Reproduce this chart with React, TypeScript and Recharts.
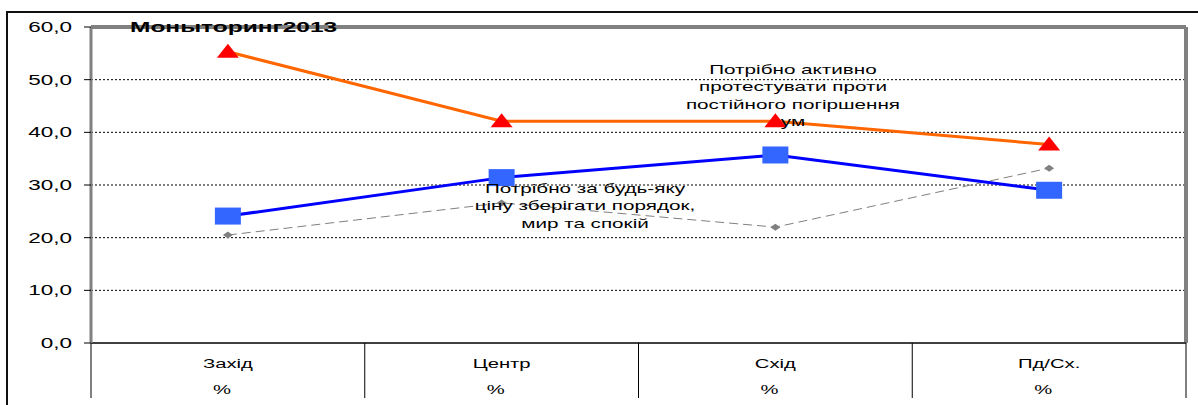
import React from "react";
import { LineChart, Line, XAxis, YAxis, CartesianGrid, ReferenceLine } from "recharts";

const categories = ["Захід", "Центр", "Схід", "Пд/Сх."];
const unitLabels = ["%", "%", "%", "%"];
const protestValues = [55.3, 42.1, 42.1, 37.7];
const orderValues = [24.1, 31.4, 35.7, 29.0];
const otherValues = [20.5, 26.6, 22.0, 33.2];
const yTicks = [0, 10, 20, 30, 40, 50, 60];

const FONT = "'Liberation Sans', Arial, sans-serif";
const STRETCH = 1.5;

// numeric x axis: categories sit at i + 0.5, borders at integers
const data = categories.map((name, i) => ({
  x: i + 0.5,
  name,
  protest: protestValues[i],
  order: orderValues[i],
  other: otherValues[i],
}));

const xTicks: number[] = [];
for (let i = 0; i <= categories.length; i++) {
  xTicks.push(i);
  if (i < categories.length) xTicks.push(i + 0.5);
}

function XTick(props: any) {
  const { x, y, payload } = props;
  const v = payload.value as number;
  if (Number.isInteger(v)) {
    return <line x1={x} y1={y} x2={x} y2={y + 55} stroke="#000" strokeWidth={1} />;
  }
  const i = Math.floor(v);
  return (
    <g transform={`translate(${x},${y})`}>
      <text transform={`scale(${STRETCH},1)`} x={0} y={25} textAnchor="middle" fontSize={13.5} fontFamily={FONT} fill="#000">
        {categories[i]}
      </text>
      <text transform={`scale(${STRETCH},1)`} x={-4} y={51} textAnchor="middle" fontSize={13.5} fontFamily={FONT} fill="#000">
        {unitLabels[i]}
      </text>
    </g>
  );
}

function YTick(props: any) {
  const { x, y, payload } = props;
  return (
    <g transform={`translate(${x},${y})`}>
      <text transform={`scale(${STRETCH},1)`} x={0} y={5} textAnchor="end" fontSize={15} fontFamily={FONT} fill="#000">
        {payload.value.toFixed(1).replace(".", ",")}
      </text>
    </g>
  );
}

const Triangle = (p: any) => (
  <polygon points={`${p.cx - 11},${p.cy + 6} ${p.cx + 11},${p.cy + 6} ${p.cx},${p.cy - 8}`} fill="#FF0000" />
);
const Square = (p: any) => <rect x={p.cx - 13} y={p.cy - 8.5} width={26} height={17} fill="#3366FF" />;
const Diamond = (p: any) => (
  <polygon points={`${p.cx - 5},${p.cy} ${p.cx},${p.cy - 3.5} ${p.cx + 5},${p.cy} ${p.cx},${p.cy + 3.5}`} fill="#808080" />
);

const noteStyle: React.CSSProperties = {
  position: "absolute",
  width: 200,
  textAlign: "center",
  fontFamily: FONT,
  fontSize: 13.5,
  lineHeight: "17.3px",
  color: "#000",
  transform: `scaleX(1.53)`,
  transformOrigin: "center",
  whiteSpace: "nowrap",
};

export default function App() {
  return (
    <div style={{ position: "absolute", left: 0, top: 0, width: 1198, height: 405, overflow: "hidden", background: "#fff" }}>
      <div
        style={{
          position: "absolute",
          left: 6,
          top: 11,
          width: 1200,
          height: 400,
          borderTop: "2px solid #111",
          borderLeft: "2px solid #111",
        }}
      />
      <div style={{ position: "absolute", left: 0, top: 0 }}>
        <LineChart width={1198} height={405} data={data} margin={{ top: 27, right: 12, bottom: 0, left: 0 }}>
          <CartesianGrid vertical={false} stroke="#000" strokeDasharray="2 2" />
          <XAxis
            dataKey="x"
            type="number"
            domain={[0, categories.length]}
            ticks={xTicks}
            interval={0}
            height={62}
            tickSize={0}
            tickMargin={0}
            tickLine={false}
            axisLine={{ stroke: "#404040", strokeWidth: 2 }}
            tick={<XTick />}
          />
          <YAxis
            type="number"
            domain={[0, 60]}
            ticks={yTicks}
            width={91}
            tickSize={7}
            tickMargin={12}
            tickLine={{ stroke: "#000" }}
            axisLine={{ stroke: "#808080", strokeWidth: 3 }}
            tick={<YTick />}
          />
          <ReferenceLine y={60} stroke="#808080" strokeWidth={4} />
          <ReferenceLine x={categories.length} stroke="#808080" strokeWidth={4} />
          <Line
            type="linear"
            dataKey="other"
            stroke="#808080"
            strokeWidth={1}
            strokeDasharray="9 5"
            dot={<Diamond />}
            activeDot={false}
            isAnimationActive={false}
          />
          <Line
            type="linear"
            dataKey="order"
            stroke="#0000FF"
            strokeWidth={3}
            dot={<Square />}
            activeDot={false}
            isAnimationActive={false}
          />
          <Line
            type="linear"
            dataKey="protest"
            stroke="#FF6600"
            strokeWidth={3}
            dot={<Triangle />}
            activeDot={false}
            isAnimationActive={false}
          />
        </LineChart>
      </div>
      <div
        style={{
          position: "absolute",
          left: 130,
          top: 18,
          fontFamily: FONT,
          fontWeight: "bold",
          fontSize: 15.5,
          color: "#000",
          transform: `scaleX(1.58)`,
          transformOrigin: "left",
          whiteSpace: "nowrap",
        }}
      >
        Моныторинг2013
      </div>
      <div style={{ ...noteStyle, left: 793 - 100, top: 61 }}>
        Потрібно активно
        <br />
        протестувати проти
        <br />
        постійного погіршення
        <br />
        ум
      </div>
      <div style={{ ...noteStyle, left: 585 - 100, top: 180 }}>
        Потрібно за будь-яку
        <br />
        ціну зберігати порядок,
        <br />
        мир та спокій
      </div>
    </div>
  );
}
